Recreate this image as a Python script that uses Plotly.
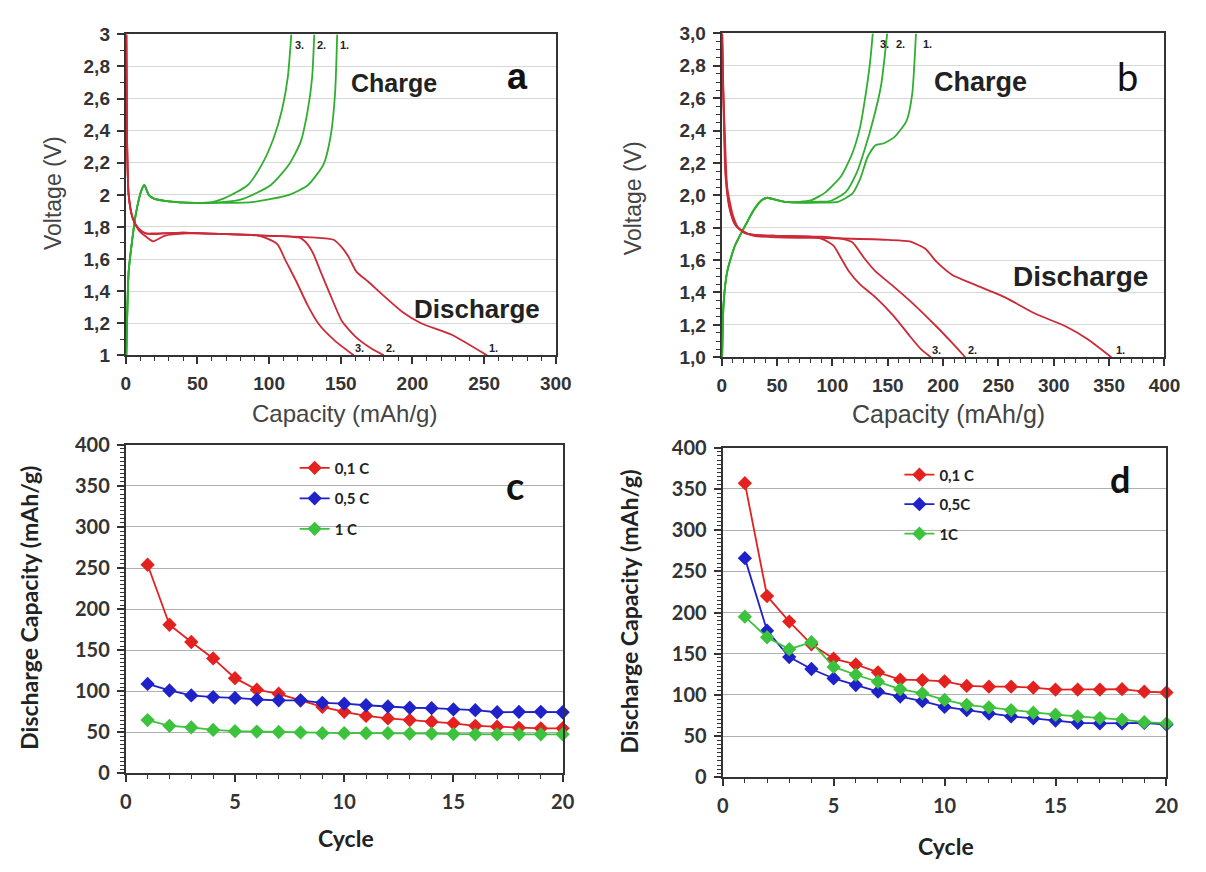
import plotly.graph_objects as go

# ---------------- Panel a : voltage profiles ----------------
a_dis1_x = [0.4, 0.8, 2, 5, 9, 14, 19, 27, 43, 70, 100, 130, 145, 150, 155, 161, 169, 180, 193, 206, 227, 252]
a_dis1_y = [3.0, 2.4, 2.0, 1.85, 1.78, 1.74, 1.71, 1.745, 1.76, 1.755, 1.745, 1.735, 1.72, 1.68, 1.62, 1.52, 1.46, 1.37, 1.27, 1.20, 1.13, 1.0]
a_dis2_x = [0.4, 0.8, 2, 5, 9, 14, 20, 40, 70, 100, 115, 122, 127, 131, 136, 143, 151, 161, 170, 180]
a_dis2_y = [3.0, 2.4, 2.0, 1.85, 1.79, 1.76, 1.755, 1.765, 1.755, 1.745, 1.74, 1.73, 1.69, 1.63, 1.52, 1.37, 1.21, 1.11, 1.05, 1.0]
a_dis3_x = [0.4, 0.8, 2, 5, 9, 14, 20, 40, 70, 90, 98, 106, 111, 119, 127, 135, 146, 159]
a_dis3_y = [3.0, 2.4, 2.0, 1.85, 1.79, 1.76, 1.76, 1.765, 1.755, 1.75, 1.73, 1.69, 1.60, 1.46, 1.31, 1.19, 1.09, 1.0]

a_chg1_x = [0.4, 2, 4.5, 7, 11, 13, 16, 20, 30, 48, 60, 88, 114, 127, 138, 143, 146, 147.5]
a_chg1_y = [1.0, 1.52, 1.72, 1.88, 2.03, 2.06, 2.0, 1.975, 1.96, 1.95, 1.95, 1.955, 2.0, 2.06, 2.19, 2.37, 2.63, 3.0]
a_chg2_x = [0.4, 2, 4.5, 7, 11, 13, 16, 20, 30, 48, 60, 80, 101, 114, 122, 127, 130, 131.5]
a_chg2_y = [1.0, 1.52, 1.72, 1.88, 2.03, 2.06, 2.0, 1.975, 1.96, 1.95, 1.95, 1.97, 2.06, 2.19, 2.33, 2.53, 2.73, 3.0]
a_chg3_x = [0.4, 2, 4.5, 7, 11, 13, 16, 20, 30, 48, 60, 69, 85, 95, 103, 109, 113, 115.5]
a_chg3_y = [1.0, 1.52, 1.72, 1.88, 2.03, 2.06, 2.0, 1.975, 1.96, 1.95, 1.955, 1.98, 2.06, 2.19, 2.35, 2.53, 2.73, 3.0]

a_y_ticks = [1, 1.2, 1.4, 1.6, 1.8, 2, 2.2, 2.4, 2.6, 2.8, 3]
a_y_text = ["1", "1,2", "1,4", "1,6", "1,8", "2", "2,2", "2,4", "2,6", "2,8", "3"]
a_x_ticks = [0, 50, 100, 150, 200, 250, 300]

# ---------------- Panel b : voltage profiles ----------------
b_dis1_x = [0.4, 1, 1.7, 3.4, 7, 12, 19, 29, 50, 100, 150, 170, 184, 194, 208, 228, 256, 283, 311, 331, 352]
b_dis1_y = [3.0, 2.75, 2.52, 2.12, 1.92, 1.82, 1.78, 1.75, 1.74, 1.735, 1.725, 1.715, 1.67, 1.59, 1.51, 1.45, 1.37, 1.27, 1.19, 1.11, 1.0]
b_dis2_x = [0.4, 1.2, 2.2, 4, 8, 13, 20, 30, 50, 90, 110, 118, 129, 139, 153, 173, 194, 208, 220]
b_dis2_y = [3.0, 2.7, 2.45, 2.1, 1.9, 1.81, 1.77, 1.755, 1.75, 1.745, 1.73, 1.71, 1.61, 1.53, 1.45, 1.33, 1.19, 1.09, 1.0]
b_dis3_x = [0.4, 1.5, 3, 5, 10, 15, 22, 30, 50, 80, 91, 101, 108, 115, 125, 139, 156, 170, 180, 189]
b_dis3_y = [3.0, 2.65, 2.35, 2.05, 1.88, 1.8, 1.765, 1.755, 1.75, 1.745, 1.73, 1.69, 1.61, 1.53, 1.45, 1.37, 1.25, 1.13, 1.05, 1.0]

b_chg1_x = [0.4, 1.7, 5, 12, 21, 29, 36, 41, 50, 57, 70, 90, 105, 118, 125, 132, 139, 146, 156, 167, 172, 175.5]
b_chg1_y = [1.0, 1.33, 1.53, 1.69, 1.81, 1.91, 1.97, 1.985, 1.97, 1.96, 1.955, 1.955, 1.96, 2.01, 2.10, 2.24, 2.31, 2.32, 2.36, 2.46, 2.62, 3.0]
b_chg2_x = [0.4, 1.7, 5, 12, 21, 29, 36, 41, 50, 57, 70, 85, 98, 112, 122, 129, 137, 144, 149.5]
b_chg2_y = [1.0, 1.33, 1.53, 1.69, 1.81, 1.91, 1.97, 1.985, 1.97, 1.96, 1.955, 1.96, 1.965, 2.02, 2.14, 2.28, 2.47, 2.68, 3.0]
b_chg3_x = [0.4, 1.7, 5, 12, 21, 29, 36, 41, 50, 57, 70, 81, 94, 108, 118, 125, 130, 134, 136.5]
b_chg3_y = [1.0, 1.33, 1.53, 1.69, 1.81, 1.91, 1.97, 1.985, 1.97, 1.96, 1.96, 1.97, 2.02, 2.12, 2.26, 2.42, 2.62, 2.82, 3.0]

b_y_ticks = [1.0, 1.2, 1.4, 1.6, 1.8, 2.0, 2.2, 2.4, 2.6, 2.8, 3.0]
b_y_text = ["1,0", "1,2", "1,4", "1,6", "1,8", "2,0", "2,2", "2,4", "2,6", "2,8", "3,0"]
b_x_ticks = [0, 50, 100, 150, 200, 250, 300, 350, 400]

# ---------------- Panel c : cycling ----------------
cycles = list(range(1, 21))
c_01C = [254, 181, 160, 140, 116, 102, 97, 89, 81, 75, 70, 67, 65, 63, 61, 58, 57, 55.5, 55, 55]
c_05C = [109, 101, 95, 93, 92, 90, 89, 89, 86, 85, 83, 81.5, 80, 79.5, 78, 77, 74.5, 75, 75, 74.5]
c_1C = [65, 58, 56, 53, 51.5, 51, 50.5, 50, 49, 49, 49, 49, 48.5, 48.5, 48, 47.6, 47.6, 47.6, 47.6, 47.6]
c_names = ["0,1 C", "0,5 C", "1 C"]

# ---------------- Panel d : cycling ----------------
d_01C = [357, 220, 189, 161.5, 144, 137, 127.5, 118.5, 118, 116.5, 111, 110, 110, 109, 106.5, 106.5, 106.5, 107, 104, 103]
d_05C = [266, 178, 146, 131.5, 120, 112, 104, 98, 92.5, 85.5, 81.5, 77.5, 74, 71.5, 69, 66, 65.5, 65.5, 66, 64]
d_1C = [195, 170, 155.5, 164, 134, 124.5, 116, 107, 102, 94, 88, 85, 81.5, 78.5, 76, 74, 72, 70, 67, 65.5]
d_names = ["0,1 C", "0,5C", "1C"]

cyc_y_ticks = [0, 50, 100, 150, 200, 250, 300, 350, 400]
cyc_x_ticks = [0, 5, 10, 15, 20]

RED = "#cc2a36"
GREEN = "#2fae2f"
M_RED = "#e3211f"
M_BLUE = "#1f22c8"
M_GREEN = "#3cc23c"
AXC = "#333333"

fig = go.Figure()

def curve(x, y, color, xa, ya):
    fig.add_trace(go.Scatter(x=x, y=y, mode="lines", xaxis=xa, yaxis=ya,
                             line=dict(color=color, width=1.8, shape="spline", smoothing=0.6),
                             showlegend=False, hoverinfo="skip"))

for xs, ys in [(a_chg1_x, a_chg1_y), (a_chg2_x, a_chg2_y), (a_chg3_x, a_chg3_y)]:
    curve(xs, ys, GREEN, "x", "y")
for xs, ys in [(a_dis1_x, a_dis1_y), (a_dis2_x, a_dis2_y), (a_dis3_x, a_dis3_y)]:
    curve(xs, ys, RED, "x", "y")
for xs, ys in [(b_chg1_x, b_chg1_y), (b_chg2_x, b_chg2_y), (b_chg3_x, b_chg3_y)]:
    curve(xs, ys, GREEN, "x2", "y2")
for xs, ys in [(b_dis1_x, b_dis1_y), (b_dis2_x, b_dis2_y), (b_dis3_x, b_dis3_y)]:
    curve(xs, ys, RED, "x2", "y2")

def cyc(vals, name, color, xa, ya, legend):
    fig.add_trace(go.Scatter(x=cycles, y=vals, name=name, mode="lines+markers", xaxis=xa, yaxis=ya,
                             line=dict(color=color, width=1.8),
                             marker=dict(symbol="diamond", size=11, color=color),
                             cliponaxis=False, legend=legend, legendgroup=legend + name))

cyc(c_01C, c_names[0], M_RED, "x3", "y3", "legend")
cyc(c_05C, c_names[1], M_BLUE, "x3", "y3", "legend")
cyc(c_1C, c_names[2], M_GREEN, "x3", "y3", "legend")
cyc(d_01C, d_names[0], M_RED, "x4", "y4", "legend2")
cyc(d_05C, d_names[1], M_BLUE, "x4", "y4", "legend2")
cyc(d_1C, d_names[2], M_GREEN, "x4", "y4", "legend2")

W, H = 1206, 872
def px_x(a, b):
    return [a / W, b / W]
def px_y(top, bot):
    return [1 - bot / H, 1 - top / H]

ARIAL = "Liberation Sans"
CAL = "Lato"

def axis(domain, rng, tickvals, ticktext, minor_dtick, anchor, font, grid, gridcolor, layer="above traces"):
    d = dict(domain=domain, range=rng, anchor=anchor, tickmode="array", tickvals=tickvals,
             showline=True, linecolor=AXC, linewidth=2, mirror=True,
             ticks="outside", ticklen=7, tickwidth=1.5, tickcolor=AXC,
             minor=dict(ticks="outside", ticklen=4, tickwidth=1, tickcolor=AXC, dtick=minor_dtick, showgrid=False),
             tickfont=font, showgrid=grid, gridcolor=gridcolor, gridwidth=1, zeroline=False, layer=layer,
             ticklabelstandoff=3)
    if ticktext is not None:
        d["ticktext"] = ticktext
    return d

f_ab = dict(family=ARIAL, size=19, color="#333333", weight="bold")
f_cd = dict(family=CAL, size=20, color="#333333", weight="bold")
f_leg = dict(family=CAL, size=15, color="#222", weight="bold")

fig.update_layout(
    width=W, height=H, margin=dict(l=0, r=0, t=0, b=0),
    paper_bgcolor="white", plot_bgcolor="white",
    xaxis=axis(px_x(122, 560), [0, 300], a_x_ticks, None, 10, "y", f_ab, False, "#ddd"),
    yaxis=axis(px_y(22, 352), [1, 3], a_y_ticks, a_y_text, 0.1, "x", f_ab, True, "#d8d8d8", "below traces"),
    xaxis2=axis(px_x(729, 1180), [0, 400], b_x_ticks, None, 10, "y2", f_ab, False, "#ddd"),
    yaxis2=axis(px_y(21, 354), [1, 3], b_y_ticks, b_y_text, 0.05, "x2", f_ab, True, "#d8d8d8", "below traces"),
    xaxis3=axis(px_x(122, 567), [0, 20], cyc_x_ticks, None, 1, "y3", f_cd, False, "#ddd"),
    yaxis3=axis(px_y(444, 782), [0, 400], cyc_y_ticks, None, 5, "x3", f_cd, True, "#b0b0b0"),
    xaxis4=axis(px_x(730, 1182), [0, 20], cyc_x_ticks, None, 1, "y4", f_cd, False, "#ddd"),
    yaxis4=axis(px_y(447, 786), [0, 400], cyc_y_ticks, None, 5, "x4", f_cd, True, "#b0b0b0"),
    legend=dict(x=294 / W, y=1 - 451 / H, xanchor="left", yanchor="top", bgcolor="rgba(0,0,0,0)",
                font=f_leg, tracegroupgap=8),
    legend2=dict(x=910 / W, y=1 - 458 / H, xanchor="left", yanchor="top", bgcolor="rgba(0,0,0,0)",
                 font=f_leg, tracegroupgap=7),
)

ann = []
def txt(x, y, s, xr, yr, size, family=ARIAL, bold=True, color="#222", angle=0, xanchor="center"):
    ann.append(dict(x=x, y=y, xref=xr, yref=yr, text=s, showarrow=False, textangle=angle,
                    xanchor=xanchor, yanchor="middle",
                    font=dict(family=family, size=size, color=color, weight="bold" if bold else "normal")))

# Panel a text
txt(273, 2.74, "a", "x", "y", 36, bold=True, color="#111")
txt(187, 2.70, "Charge", "x", "y", 25)
txt(245, 1.29, "Discharge", "x", "y", 26)
for xv, s in [(116.6, "3."), (132, "2."), (148, "1.")]:
    txt(xv, 2.935, s, "x", "y", 11, xanchor="left")
for xv, s in [(162.8, "3."), (184.4, "2."), (256.5, "1.")]:
    txt(xv, 1.045, s, "x", "y", 11)
# Panel b text
txt(367, 2.74, "b", "x2", "y2", 38, family=CAL, bold=False, color="#111")
txt(233.5, 2.70, "Charge", "x2", "y2", 27)
txt(324.5, 1.50, "Discharge", "x2", "y2", 28)
for xv, s in [(141, "3."), (156, "2."), (180, "1.")]:
    txt(xv, 2.935, s, "x2", "y2", 11, xanchor="left")
for xv, s in [(194, "3."), (226.6, "2."), (360.5, "1.")]:
    txt(xv, 1.045, s, "x2", "y2", 11)
# Panel c / d letters
txt(17.84, 351, "c", "x3", "y3", 38, family=CAL, color="#111")
txt(17.9, 362, "d", "x4", "y4", 36, family=CAL, color="#111")

# Axis titles (paper coordinates from pixels)
def ptxt(xp, yp, s, size, family, bold, angle=0, color="#444"):
    txt(xp / W, 1 - yp / H, s, "paper", "paper", size, family=family, bold=bold, color=color, angle=angle)

ptxt(48, 185, "Voltage (V)", 23, ARIAL, False, -90)
ptxt(345, 412, "Capacity (mAh/g)", 24, ARIAL, False)
ptxt(638, 190, "Voltage (V)", 23, ARIAL, False, -90)
ptxt(960, 412, "Capacity (mAh/g)", 25, ARIAL, False)
ptxt(24, 612, "Discharge Capacity (mAh/g)", 23, CAL, True, -90, "#222")
ptxt(346, 848, "Cycle", 23, CAL, True, 0, "#222")
ptxt(635, 615, "Discharge Capacity (mAh/g)", 23, CAL, True, -90, "#222")
ptxt(957, 857, "Cycle", 23, CAL, True, 0, "#222")

fig.update_layout(annotations=ann)
fig.write_html("out.html")
